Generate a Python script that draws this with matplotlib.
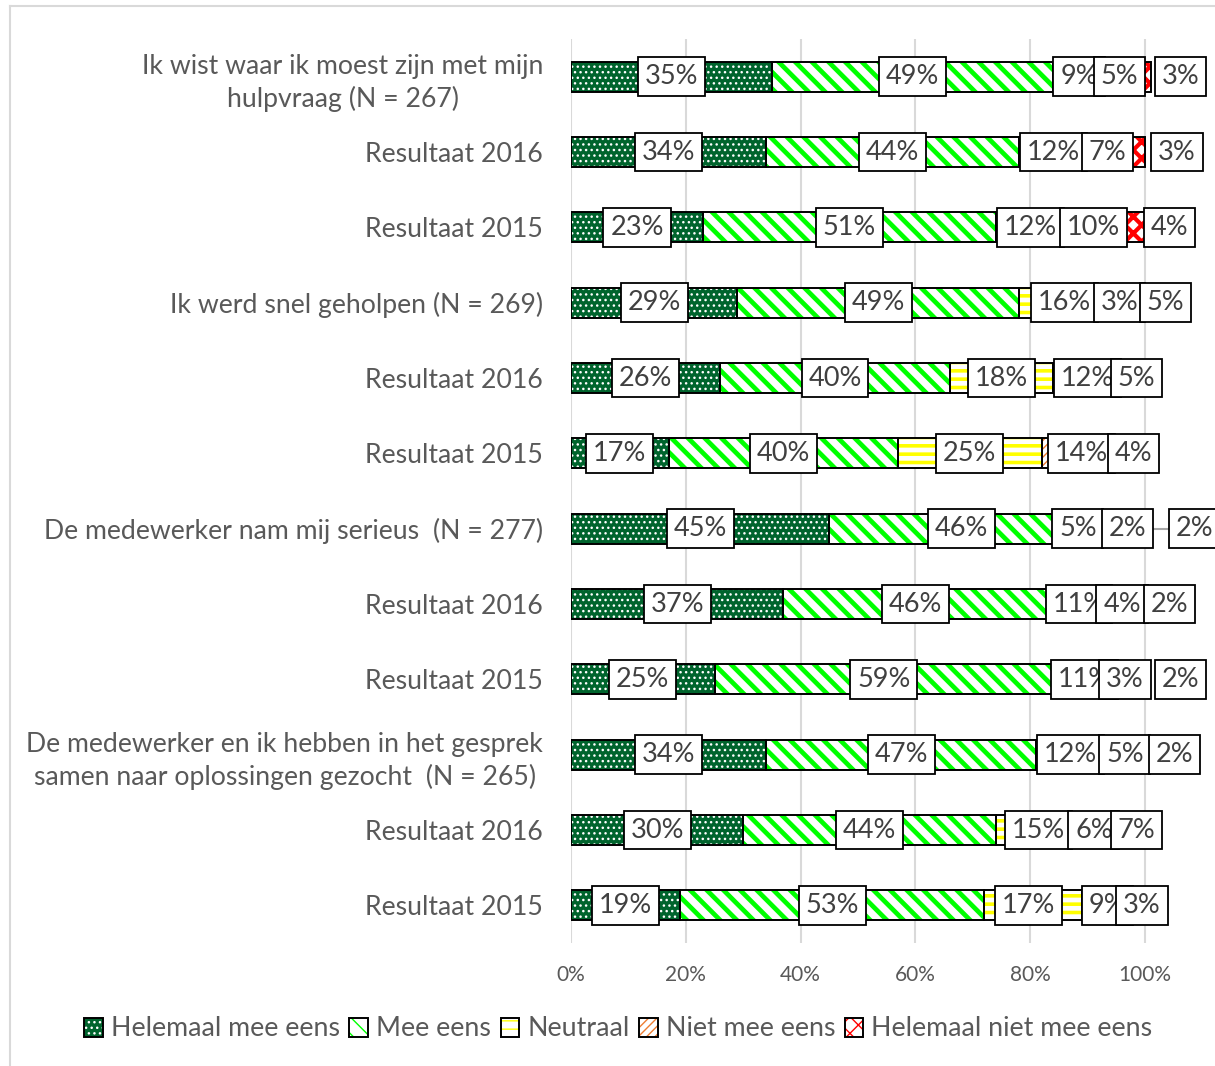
import matplotlib
matplotlib.use("Agg")
import matplotlib.pyplot as plt
from matplotlib.patches import Patch
from matplotlib.lines import Line2D
from matplotlib.legend_handler import HandlerTuple
import numpy as np

plt.rcParams['font.family'] = ['Lato', 'DejaVu Sans']

# ---------------- data ----------------
categories = [
    "Ik wist waar ik moest zijn met mijn\nhulpvraag (N = 267)",
    "Resultaat 2016",
    "Resultaat 2015",
    "Ik werd snel geholpen (N = 269)",
    "Resultaat 2016",
    "Resultaat 2015",
    "De medewerker nam mij serieus  (N = 277)",
    "Resultaat 2016",
    "Resultaat 2015",
    "De medewerker en ik hebben in het gesprek\nsamen naar oplossingen gezocht  (N = 265)",
    "Resultaat 2016",
    "Resultaat 2015",
]
series_names = ["Helemaal mee eens", "Mee eens", "Neutraal", "Niet mee eens",
                "Helemaal niet mee eens"]
helemaal_mee_eens = [35, 34, 23, 29, 26, 17, 45, 37, 25, 34, 30, 19]
mee_eens = [49, 44, 51, 49, 40, 40, 46, 46, 59, 47, 44, 53]
neutraal = [9, 12, 12, 16, 18, 25, 5, 11, 11, 12, 15, 17]
niet_mee_eens = [5, 7, 10, 3, 12, 14, 2, 4, 3, 5, 6, 9]
helemaal_niet_mee_eens = [3, 3, 4, 5, 5, 4, 2, 2, 2, 2, 7, 3]
tick_values = [0, 20, 40, 60, 80, 100]
tick_labels = ["0%", "20%", "40%", "60%", "80%", "100%"]

# ---------------- layout / style ----------------
# manual label nudges (row, series) -> shift in axis units, as in the original chart
label_shift = {(0, 4): 6.7, (1, 4): 7.1, (2, 4): 6.3, (3, 4): 4.0, (6, 2): -5.2,
               (6, 4): 9.7, (7, 4): 5.2, (8, 4): 7.2, (9, 3): 1.0,
               (9, 4): 6.2, (10, 3): -0.9, (11, 2): -0.8}
leader_rows = [6]
styles = [
    dict(face="#00642D", hatch="...", hcolor="white", hlw=1.0),
    dict(face="white", hatch="\\\\", hcolor="#00FF00", hlw=3.4),
    dict(face="white", hatch="--", hcolor="#FFFF00", hlw=2.6),
    dict(face="white", hatch="////", hcolor="#ED7D31", hlw=1.0),
    dict(face="white", hatch="xx", hcolor="#FF0000", hlw=3.0),
]
W, H = 1215, 1066
X0, X100 = 571, 1145
px_per_pct = (X100 - X0) / 100.0
TOP, BOT = 39, 943

fig = plt.figure(figsize=(W / 100, H / 100), dpi=100)
ax = fig.add_axes([X0 / W, 1 - BOT / H, (W - X0) / W, (BOT - TOP) / H])
ax.set_xlim(0, (W - X0) / px_per_pct)
ax.set_ylim(len(categories) - 0.5, -0.5)

series = [helemaal_mee_eens, mee_eens, neutraal, niet_mee_eens, helemaal_niet_mee_eens]
y = np.arange(len(categories))
left = np.zeros(len(categories))
bar_h = 0.4


def set_hlw(patches, lw):
    for p in patches:
        if hasattr(p, "set_hatch_linewidth"):
            p.set_hatch_linewidth(lw)


label_pos = []
for j, (vals, st) in enumerate(zip(series, styles)):
    vals = np.array(vals, dtype=float)
    with plt.rc_context({"hatch.linewidth": st["hlw"]}):
        b = ax.barh(y, vals, left=left, height=bar_h, color=st["face"],
                    edgecolor=st["hcolor"], linewidth=0, hatch=st["hatch"], zorder=2)
    set_hlw(b.patches, st["hlw"])
    ax.barh(y, vals, left=left, height=bar_h, fill=False, edgecolor="black",
            linewidth=1.4, zorder=3)
    label_pos.append(left + vals / 2)
    left = left + vals

for j, vals in enumerate(series):
    for i, v in enumerate(vals):
        x = label_pos[j][i] + label_shift.get((i, j), 0.0)
        if j == len(series) - 1 and i in leader_rows:
            ax.plot([left[i] - v / 2, x], [i, i], color="#A6A6A6", lw=1.5, zorder=4)
        ax.text(x, i, f"{v}%", ha="center", va="center", fontsize=19.5,
                color="#404040", zorder=5 + j, clip_on=False,
                bbox=dict(boxstyle="square,pad=0.25", fc="white", ec="black", lw=1.3))

ax.set_xticks(tick_values, tick_labels)
ax.set_yticks(y, categories)
for lbl in ax.get_yticklabels():
    lbl.set_multialignment("center")
    lbl.set_linespacing(1.35)
ax.tick_params(axis="x", length=0, pad=16, labelsize=15, labelcolor="#595959")
ax.tick_params(axis="y", length=0, pad=20, labelsize=19.2, labelcolor="#595959")
ax.grid(axis="x", color="#D9D9D9", lw=1.5, zorder=0)
ax.set_axisbelow(True)
for s in ax.spines.values():
    s.set_visible(False)

handles = []
for st in styles:
    with plt.rc_context({"hatch.linewidth": min(st["hlw"], 2.0)}):
        p1 = Patch(facecolor=st["face"], edgecolor=st["hcolor"], hatch=st["hatch"], lw=0)
    set_hlw([p1], min(st["hlw"], 2.0))
    p2 = Patch(fill=False, edgecolor="black", lw=1.4)
    handles.append((p1, p2))
fig.legend(handles, series_names, loc="center", bbox_to_anchor=(0.509, 1 - 1029 / H),
           ncol=5, frameon=False, fontsize=19.3, labelcolor="#595959",
           handlelength=0.7, handleheight=0.7, handletextpad=0.3, columnspacing=0.35,
           handler_map={tuple: HandlerTuple(ndivide=1)})

fig.add_artist(Line2D([10 / W, 1], [1 - 6 / H, 1 - 6 / H], transform=fig.transFigure,
                      color="#D9D9D9", lw=1.5))
fig.add_artist(Line2D([10 / W, 10 / W], [0, 1 - 6 / H], transform=fig.transFigure,
                      color="#D9D9D9", lw=1.5))

fig.savefig("out.png", dpi=100)
